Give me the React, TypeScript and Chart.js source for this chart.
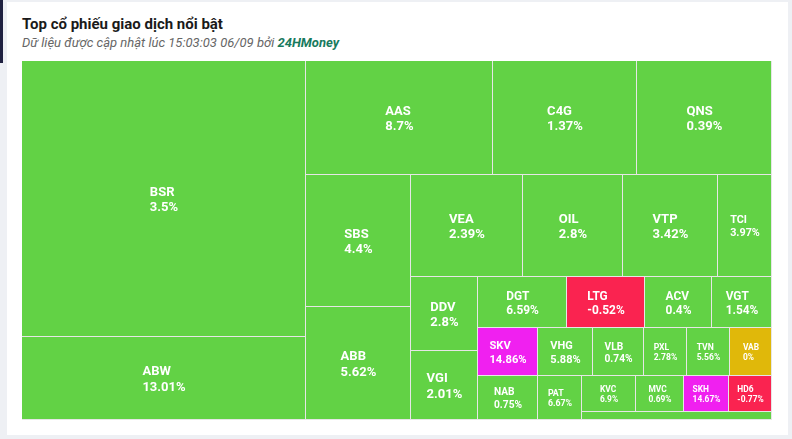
import React, { useEffect, useRef } from 'react';
import { Chart, registerables } from 'chart.js';

Chart.register(...registerables);

// Tickers, trading value (tỷ đồng) and % change
const tickers = [
  'BSR', 'ABW', 'AAS', 'C4G', 'QNS', 'SBS', 'ABB', 'VEA', 'OIL', 'VTP',
  'TCI', 'DDV', 'VGI', 'DGT', 'LTG', 'ACV', 'VGT', 'SKV', 'NAB', 'VHG',
  'VLB', 'PXL', 'TVN', 'VAB', 'PAT', 'KVC', 'MVC', 'SKH', 'HD6', 'Khác',
];
const tradeValues = [
  782.2, 236.3, 213.7, 165.3, 154.0, 138.0, 119.0, 114.6, 102.3, 96.9,
  54.8, 49.4, 46.2, 45.7, 39.6, 34.3, 30.5, 28.3, 26.5, 26.4,
  23.9, 20.7, 20.2, 19.9, 19.7, 19.3, 17.6, 16.2, 15.4, 15.4,
];
const changes = [
  3.5, 13.01, 8.7, 1.37, 0.39, 4.4, 5.62, 2.39, 2.8, 3.42,
  3.97, 2.8, 2.01, 6.59, -0.52, 0.4, 1.54, 14.86, 0.75, 5.88,
  0.74, 2.78, 5.56, 0, 6.67, 6.9, 0.69, 14.67, -0.77, 0.5,
];

const COLOR_UP = '#62d245';
const COLOR_DOWN = '#fa2350';
const COLOR_CEIL = '#f020f0';
const COLOR_REF = '#e0b80a';
const BORDER = '#e6e6e6';

function colorFor(ch: number): string {
  if (ch >= 14.5) return COLOR_CEIL;
  if (ch > 0) return COLOR_UP;
  if (ch < 0) return COLOR_DOWN;
  return COLOR_REF;
}

type Rect = { x: number; y: number; width: number; height: number };

// Squarified layout with alternating direction (Highcharts-style)
function squarified(parent: Rect, vals: number[]): Rect[] {
  const total = vals.reduce((a, b) => a + b, 0);
  const out: Rect[] = [];
  const plot = { x: parent.x, y: parent.y };
  const g: any = {
    height: parent.height, width: parent.width, direction: 0, total: 0,
    nW: 0, lW: 0, nH: 0, lH: 0, elArr: [] as number[],
    lP: { total: 0, lH: 0, nH: 0, lW: 0, nW: 0, nR: 0, lR: 0 },
  };
  const ar = (w: number, h: number) => Math.max(w / h, h / w);
  const addElement = (el: number) => {
    g.lP.total = g.elArr[g.elArr.length - 1];
    g.total += el;
    if (g.direction === 0) {
      g.lW = g.nW;
      g.lP.lH = g.lP.total / g.lW;
      g.lP.lR = ar(g.lW, g.lP.lH);
      g.nW = g.total / g.height;
      g.lP.nH = g.lP.total / g.nW;
      g.lP.nR = ar(g.nW, g.lP.nH);
    } else {
      g.lH = g.nH;
      g.lP.lW = g.lP.total / g.lH;
      g.lP.lR = ar(g.lP.lW, g.lH);
      g.nH = g.total / g.width;
      g.lP.nW = g.lP.total / g.nH;
      g.lP.nR = ar(g.lP.nW, g.nH);
    }
    g.elArr.push(el);
  };
  const calc = (last: boolean) => {
    let gW = g.lW;
    let gH = g.lH;
    let keep: number | undefined;
    if (last) {
      gW = g.nW;
      gH = g.nH;
    } else {
      keep = g.elArr[g.elArr.length - 1];
    }
    const end = g.elArr.length - 1;
    g.elArr.forEach((p: number, i: number) => {
      if (last || i < end) {
        let pW: number;
        let pH: number;
        if (g.direction === 0) {
          pW = gW;
          pH = p / pW;
        } else {
          pH = gH;
          pW = p / pH;
        }
        out.push({ x: plot.x, y: plot.y, width: pW, height: pH });
        if (g.direction === 0) plot.y += pH;
        else plot.x += pW;
      }
    });
    g.nW = 0;
    g.lW = 0;
    g.elArr = [];
    g.total = 0;
    if (g.direction === 0) g.width -= gW;
    else g.height -= gH;
    plot.y = parent.y + (parent.height - g.height);
    plot.x = parent.x + (parent.width - g.width);
    g.direction = 1 - g.direction;
    if (!last && keep !== undefined) addElement(keep);
  };
  vals.forEach((v, i) => {
    addElement(parent.width * parent.height * (v / total));
    if (g.lP.nR > g.lP.lR) calc(false);
    if (i === vals.length - 1) calc(true);
  });
  return out;
}

const treemapPlugin = {
  id: 'treemapCells',
  afterDatasetsDraw(chart: any) {
    const { ctx, chartArea } = chart;
    const xs = chart.scales.x;
    const ys = chart.scales.y;
    const W = chartArea.right - chartArea.left;
    const H = chartArea.bottom - chartArea.top;
    const rects = squarified({ x: 0, y: 0, width: W, height: H }, tradeValues);
    ctx.save();
    const px = rects.map((r) => {
      const x0 = Math.round(xs.getPixelForValue(r.x / W));
      const x1 = Math.round(xs.getPixelForValue((r.x + r.width) / W));
      const y0 = Math.round(ys.getPixelForValue(r.y / H));
      const y1 = Math.round(ys.getPixelForValue((r.y + r.height) / H));
      return { x0, x1, y0, y1 };
    });
    px.forEach((p, i) => {
      ctx.fillStyle = colorFor(changes[i]);
      ctx.fillRect(p.x0, p.y0, p.x1 - p.x0, p.y1 - p.y0);
    });
    ctx.strokeStyle = BORDER;
    ctx.lineWidth = 1;
    px.forEach((p) => {
      ctx.strokeRect(p.x0 - 0.5, p.y0 - 0.5, p.x1 - p.x0, p.y1 - p.y0);
    });
    // labels
    ctx.fillStyle = '#ffffff';
    ctx.textAlign = 'left';
    ctx.textBaseline = 'alphabetic';
    px.forEach((p, i) => {
      const w = p.x1 - p.x0;
      const h = p.y1 - p.y0;
      const fs = Math.min(13, w / 5, h / 4.3);
      if (fs < 6) return;
      ctx.font = `bold ${fs.toFixed(1)}px Roboto`;
      const l1 = tickers[i];
      const l2 = `${changes[i]}%`;
      const bw = Math.max(ctx.measureText(l1).width, ctx.measureText(l2).width);
      const L = fs * 1.2;
      const cap = fs * 0.711;
      const cx = (p.x0 + p.x1) / 2;
      const cy = (p.y0 + p.y1) / 2;
      const b2 = cy + (L + cap) / 2;
      const b1 = b2 - L;
      const tx = cx - bw / 2;
      ctx.fillText(l1, tx, b1);
      ctx.fillText(l2, tx, b2);
    });
    ctx.restore();
  },
};

export default function App() {
  const ref = useRef<HTMLCanvasElement | null>(null);
  useEffect(() => {
    if (!ref.current) return;
    const chart = new Chart(ref.current, {
      type: 'scatter',
      data: { datasets: [{ label: 'Giá trị giao dịch', data: [] }] },
      options: {
        animation: false,
        responsive: false,
        maintainAspectRatio: false,
        layout: { padding: 0 },
        scales: {
          x: { type: 'linear', min: 0, max: 1, display: false },
          y: { type: 'linear', min: 0, max: 1, reverse: true, display: false },
        },
        plugins: { legend: { display: false }, tooltip: { enabled: false } },
      },
      plugins: [treemapPlugin],
    } as any);
    return () => chart.destroy();
  }, []);

  return (
    <div style={{ position: 'fixed', left: 0, top: 0, width: 792, height: 439, background: '#eef0f4', overflow: 'hidden', fontFamily: 'Roboto, sans-serif' }}>
      <div style={{ position: 'absolute', left: 0, top: 0, width: 3, height: 63, background: '#1f2140' }} />
      <div style={{ position: 'absolute', left: 7, top: 2, width: 781, height: 433, background: '#ffffff' }} />
      <div style={{ position: 'absolute', left: 22, top: 16, fontSize: 15, lineHeight: '16px', fontWeight: 700, color: '#1a1a1a', whiteSpace: 'nowrap' }}>
        Top cổ phiếu giao dịch nổi bật
      </div>
      <div style={{ position: 'absolute', left: 22, top: 35, fontSize: 13, lineHeight: '16px', fontStyle: 'italic', color: '#666666', whiteSpace: 'nowrap' }}>
        Dữ liệu được cập nhật lúc 15:03:03 06/09 bởi{' '}
        <span style={{ fontWeight: 700, color: '#187a5e' }}>24HMoney</span>
      </div>
      <canvas ref={ref} width={750} height={359} style={{ position: 'absolute', left: 22, top: 61, width: 750, height: 359 }} />
    </div>
  );
}
